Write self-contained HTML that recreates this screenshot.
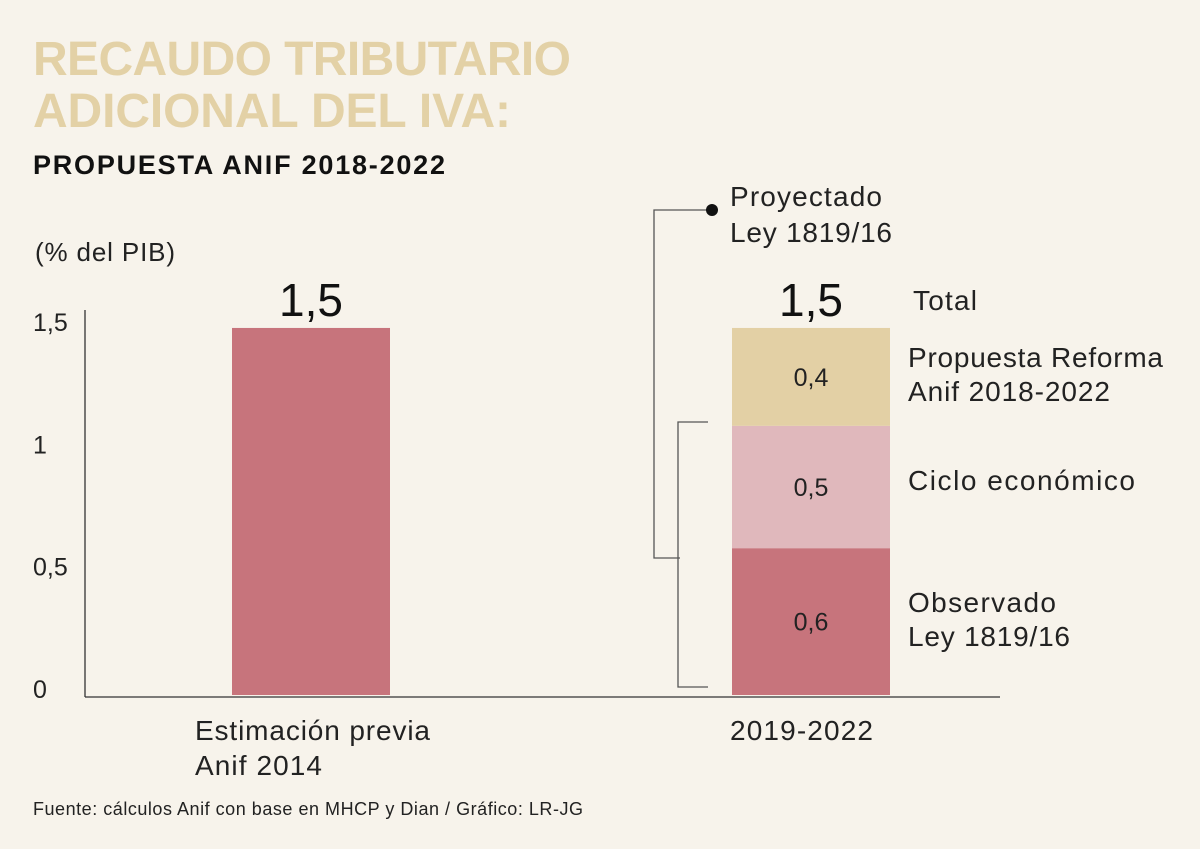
<!DOCTYPE html>
<html><head><meta charset="utf-8">
<style>
body{margin:0;background:#f7f3eb;}
svg{display:block;font-family:"Liberation Sans",sans-serif;}
</style></head>
<body>
<svg width="1200" height="849" viewBox="0 0 1200 849">
<rect width="1200" height="849" fill="#f7f3eb"/>
<text x="33" y="75" font-size="48" font-weight="bold" fill="#e3d1a6" textLength="538">RECAUDO TRIBUTARIO</text>
<text x="33" y="127" font-size="48" font-weight="bold" fill="#e3d1a6" textLength="478">ADICIONAL DEL IVA:</text>
<text x="33" y="174" font-size="27" font-weight="bold" fill="#111" textLength="412">PROPUESTA ANIF 2018-2022</text>
<text x="35" y="261" font-size="26" fill="#222" textLength="140">(% del PIB)</text>
<g id="axes"></g>
<g id="marks"></g>
<g stroke="#555" stroke-width="1.3" fill="none">
<path d="M708 210 H654 V558 H680"/>
<path d="M708 422 H678 V687 H708"/>
</g>
<circle cx="712" cy="210" r="6" fill="#111"/>
<text x="730" y="206" font-size="28" fill="#222" textLength="152">Proyectado</text>
<text x="730" y="242" font-size="28" fill="#222" textLength="162">Ley 1819/16</text>
<text x="913" y="310" font-size="28" fill="#222" textLength="64">Total</text>
<text x="908" y="367" font-size="28" fill="#222" textLength="255">Propuesta Reforma</text>
<text x="908" y="401" font-size="28" fill="#222" textLength="202">Anif 2018-2022</text>
<text x="908" y="490" font-size="28" fill="#222" textLength="227">Ciclo económico</text>
<text x="908" y="612" font-size="28" fill="#222" textLength="148">Observado</text>
<text x="908" y="646" font-size="28" fill="#222" textLength="162">Ley 1819/16</text>
<text x="195" y="740" font-size="28" fill="#222" textLength="235">Estimación previa</text>
<text x="195" y="775" font-size="28" fill="#222" textLength="127">Anif 2014</text>
<text x="730" y="740" font-size="28" fill="#222" textLength="143">2019-2022</text>
<text x="33" y="815" font-size="18" fill="#222" textLength="550">Fuente: cálculos Anif con base en MHCP y Dian / Gráfico: LR-JG</text>
</svg>
<script>
const ticks=[0,0.5,1,1.5];
const tickLabels=["0","0,5","1","1,5"];
const singleValue=[1.5];
const stackValues=[0.6,0.5,0.4];
const stackLabels=["0,6","0,5","0,4"];
const totals=["1,5","1,5"];
const ns="http://www.w3.org/2000/svg";
function y(v){return 695-v*244.7;}
function mk(t,a,p){const e=document.createElementNS(ns,t);for(const k in a)e.setAttribute(k,a[k]);p.appendChild(e);return e;}
const ax=document.getElementById('axes'),mg=document.getElementById('marks');
const yl=mk('line',{x1:85,y1:310,x2:85,y2:697,stroke:'#333','stroke-width':1.3},ax);


const xl=mk('line',{x1:85,y1:697,x2:1000,y2:697,stroke:'#333','stroke-width':1.3},ax);


ticks.forEach((t,i)=>{const e=mk('text',{x:33,y:y(t)+3,'font-size':25,fill:'#222'},ax);e.textContent=tickLabels[i];

});
const b=mk('rect',{x:232,y:y(singleValue[0]),width:158,height:y(0)-y(singleValue[0]),fill:'#c7747c'},mg);


const cols=['#c7747c','#e0b8bc','#e3d0a5'];
let acc=0;
stackValues.forEach((v,i)=>{const r=mk('rect',{x:732,y:y(acc+v),width:158,height:y(acc)-y(acc+v),fill:cols[i]},mg);


const t=mk('text',{x:811,y:(y(acc)+y(acc+v))/2+9,'font-size':25,fill:'#222','text-anchor':'middle'},mg);t.textContent=stackLabels[i];


acc+=v;});
const tv=[[311,singleValue[0]],[811,acc]];
tv.forEach((p,i)=>{const t=mk('text',{x:p[0],y:y(p[1])-12,'font-size':46,fill:'#111','text-anchor':'middle'},mg);t.textContent=totals[i];

});
</script>
</body></html>
